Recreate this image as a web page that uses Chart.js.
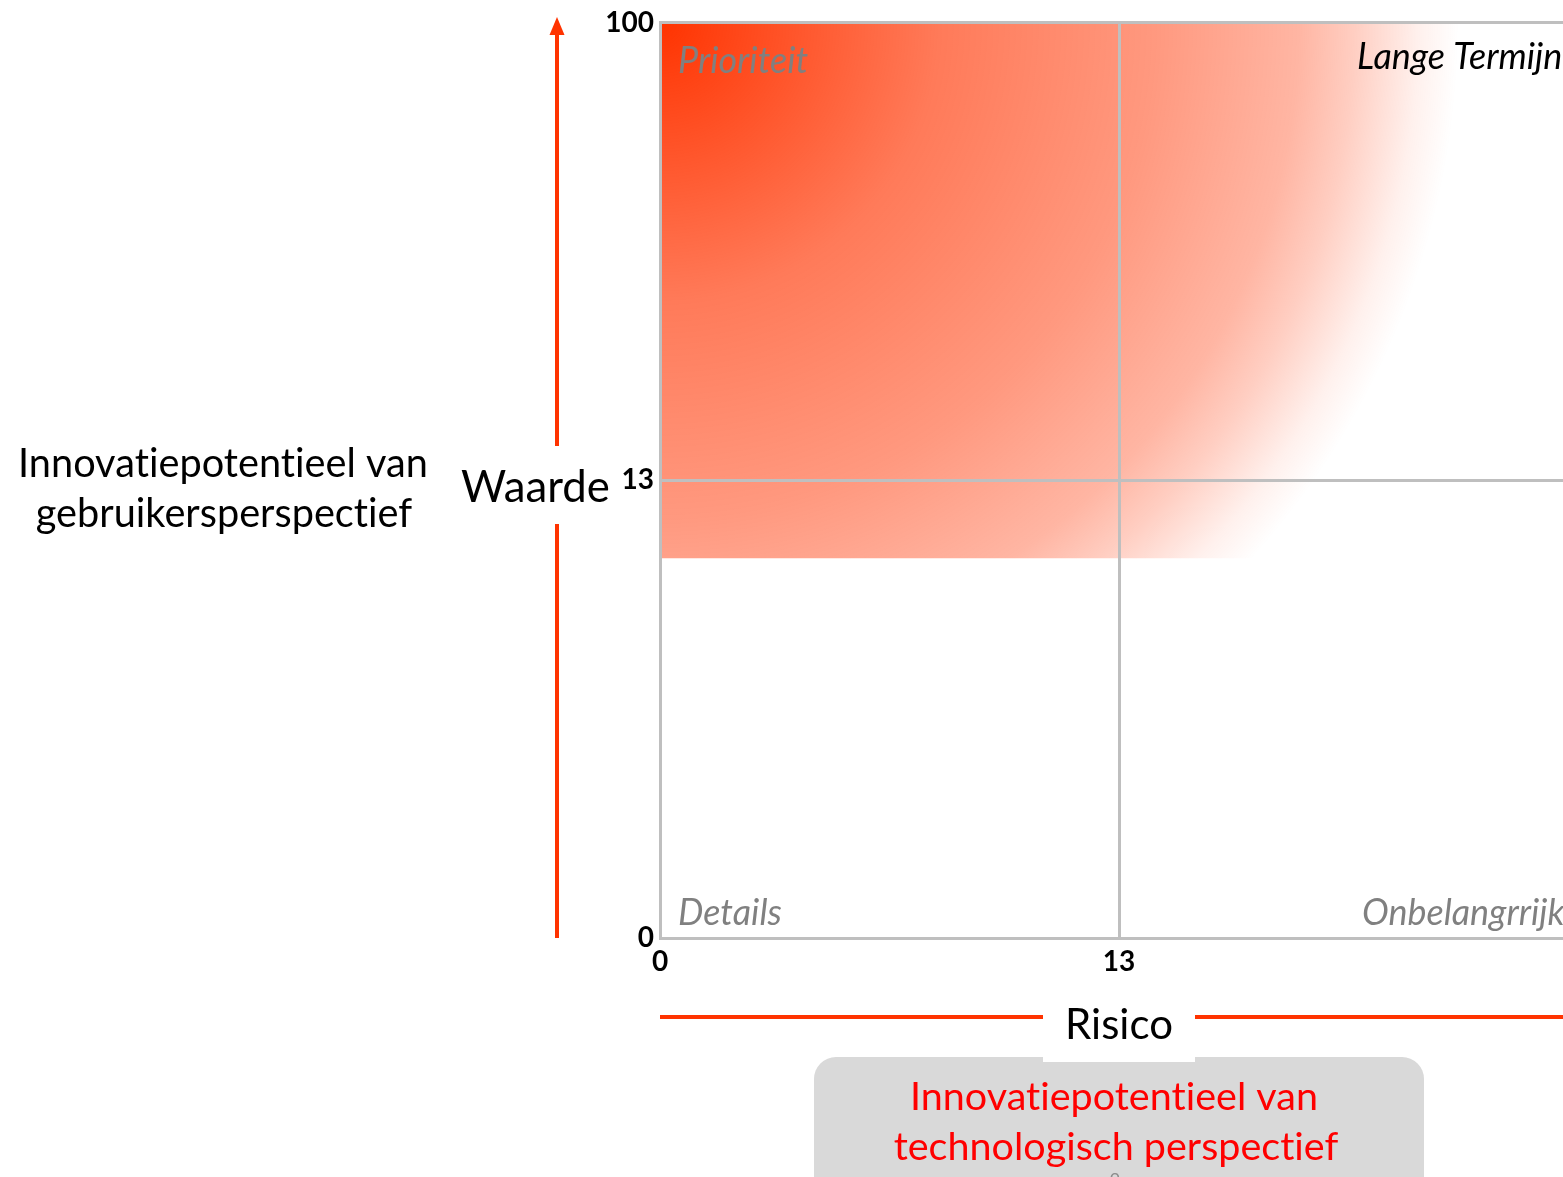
<!DOCTYPE html>
<html lang="nl">
<head>
<meta charset="utf-8">
<title>Waarde / Risico</title>
<script src="https://cdn.jsdelivr.net/npm/chart.js@4/dist/chart.umd.min.js"></script>
<style>
    html, body { margin: 0; padding: 0; background: #ffffff; overflow: hidden; }
    #matrix { position: absolute; left: 0; top: 0; }
</style>
</head>
<body>
<canvas id="matrix" width="1610" height="1177"></canvas>
<script>
"use strict";

// As-posities en hun labels: 0, 13 en 100 staan op gelijke afstand.
const tickPositions = [0, 1, 2];
const yTickLabels = ["0", "13", "100"];
const xTickLabels = ["0", "13", ""];

// Het gekleurde blok linksboven (in as-eenheden).
const zoneX = [0, 2];
const zoneTop = 2;
const zoneBottom = 0.83;

// Teksten rond de matrix.
const quadrantLabels = ["Prioriteit", "Lange Termijn", "Details", "Onbelangrrijk"];
const yTitle = "Waarde";
const xTitle = "Risico";
const yCaption = ["Innovatiepotentieel van", "gebruikersperspectief"];
const xCaption = ["Innovatiepotentieel van", "technologisch perspectief"];

const red = "#ff3300";
const family = "Lato, 'Open Sans', sans-serif";

// Lettergrootte zoeken die een tekst een bepaalde breedte geeft.
function fitFont(ctx, text, width, style) {
    ctx.font = `${style} 100px ${family}`;
    const size = 100 * width / ctx.measureText(text).width;
    return `${style} ${size.toFixed(1)}px ${family}`;
}

// Radiale vervaging vanuit de hoek linksboven.
function zoneGradient(context) {
    const area = context.chart.chartArea;
    if (!area) {
        return "rgba(255, 51, 0, 0.5)";
    }
    const r = (area.right - area.left) * 0.87;
    const g = context.chart.ctx.createRadialGradient(area.left, area.top, 0, area.left, area.top, r);
    g.addColorStop(0, "rgba(255, 51, 0, 1)");
    g.addColorStop(0.18, "rgba(255, 51, 0, 0.82)");
    g.addColorStop(0.35, "rgba(255, 51, 0, 0.65)");
    g.addColorStop(0.62, "rgba(255, 51, 0, 0.5)");
    g.addColorStop(0.8, "rgba(255, 51, 0, 0.36)");
    g.addColorStop(0.87, "rgba(255, 51, 0, 0.24)");
    g.addColorStop(0.95, "rgba(255, 51, 0, 0.07)");
    g.addColorStop(1, "rgba(255, 51, 0, 0)");
    return g;
}

// Alles buiten het plotgebied: pijlen, titels en het grijze kader.
const decorations = {
    id: "decorations",
    afterDraw(chart) {
        const ctx = chart.ctx;
        const a = chart.chartArea;
        ctx.save();
        // geen "ti"-ligaturen van Lato
        ctx.textRendering = "optimizeSpeed";
        ctx.letterSpacing = "0.01px";

        // kwadrantnamen
        const qFont = fitFont(ctx, quadrantLabels[0], 130, "italic");
        ctx.font = qFont;
        ctx.textAlign = "left";
        ctx.textBaseline = "alphabetic";
        ctx.fillStyle = "#808080";
        ctx.fillText(quadrantLabels[0], a.left + 18, a.top + 50);
        ctx.fillText(quadrantLabels[2], a.left + 18, a.bottom - 13);
        ctx.fillText(quadrantLabels[3], a.left + 702, a.bottom - 13);
        ctx.fillStyle = "#000000";
        ctx.fillText(quadrantLabels[1], a.left + 697, a.top + 46);

        // verticale pijl met onderbreking voor "Waarde"
        const ax = 557;
        ctx.strokeStyle = red;
        ctx.fillStyle = red;
        ctx.lineWidth = 4;
        ctx.beginPath();
        ctx.moveTo(ax, a.bottom);
        ctx.lineTo(ax, 524);
        ctx.moveTo(ax, 446);
        ctx.lineTo(ax, 32);
        ctx.stroke();
        ctx.beginPath();
        ctx.moveTo(ax, 17);
        ctx.lineTo(ax + 7.5, 35);
        ctx.lineTo(ax - 7.5, 35);
        ctx.closePath();
        ctx.fill();

        ctx.fillStyle = "#000000";
        ctx.font = fitFont(ctx, yTitle, 149, "normal");
        ctx.textAlign = "left";
        ctx.fillText(yTitle, 461, 502);

        ctx.font = fitFont(ctx, yCaption[0], 410, "normal");
        ctx.textAlign = "center";
        ctx.fillText(yCaption[0], 223, 477);
        ctx.fillText(yCaption[1], 224, 527);

        // grijs kader onderaan
        ctx.fillStyle = "#d9d9d9";
        ctx.beginPath();
        ctx.roundRect(814, 1057, 610, 160, 22);
        ctx.fill();

        // horizontale lijn met "Risico"
        ctx.strokeStyle = red;
        ctx.lineWidth = 4;
        ctx.beginPath();
        ctx.moveTo(a.left, 1017);
        ctx.lineTo(1043, 1017);
        ctx.moveTo(1195, 1017);
        ctx.lineTo(chart.width, 1017);
        ctx.stroke();
        ctx.fillStyle = "#ffffff";
        ctx.fillRect(1043, 1000, 152, 62);
        ctx.fillStyle = "#000000";
        ctx.font = fitFont(ctx, xTitle, 108, "normal");
        ctx.fillText(xTitle, 1119, 1039);

        ctx.fillStyle = "#ff0000";
        ctx.font = fitFont(ctx, xCaption[0], 408, "normal");
        ctx.fillText(xCaption[0], 1114, 1110);
        ctx.fillText(xCaption[1], 1116, 1160);

        // paginanummer
        ctx.fillStyle = "#8c8c8c";
        ctx.font = `18px ${family}`;
        ctx.fillText("9", 1115, 1186);

        ctx.restore();
    }
};

const gridColor = "#bfbfbf";
const tickFont = { family: family, size: 28, weight: "bold" };

const config = {
    type: "line",
    data: {
        datasets: [{
            label: "zone",
            data: zoneX.map((x) => ({ x: x, y: zoneTop })),
            fill: { value: zoneBottom },
            backgroundColor: zoneGradient,
            borderWidth: 0,
            pointRadius: 0,
            tension: 0
        }]
    },
    options: {
        responsive: false,
        animation: false,
        events: [],
        layout: {
            padding: { top: 20, right: 32, bottom: 0, left: 0 }
        },
        scales: {
            x: {
                type: "linear",
                min: 0,
                max: 2,
                afterFit(scale) {
                    scale.height = 239;
                },
                afterBuildTicks(scale) {
                    scale.ticks = tickPositions.map((v) => ({ value: v }));
                },
                ticks: {
                    callback: (v) => xTickLabels[tickPositions.indexOf(v)],
                    font: tickFont,
                    color: "#000000",
                    padding: 7,
                    maxRotation: 0
                },
                grid: { color: gridColor, lineWidth: 3, drawTicks: false, z: 1 },
                border: { color: gridColor, width: 3, z: 1 }
            },
            y: {
                type: "linear",
                min: 0,
                max: 2,
                afterFit(scale) {
                    scale.width = 660;
                },
                afterBuildTicks(scale) {
                    scale.ticks = tickPositions.map((v) => ({ value: v }));
                },
                ticks: {
                    callback: (v) => yTickLabels[tickPositions.indexOf(v)],
                    font: tickFont,
                    color: "#000000",
                    padding: 6
                },
                grid: { color: gridColor, lineWidth: 3, drawTicks: false, z: 1 },
                border: { color: gridColor, width: 3, z: 1 }
            }
        },
        plugins: {
            legend: { display: false },
            tooltip: { enabled: false }
        }
    },
    plugins: [decorations]
};

new Chart(document.getElementById("matrix"), config);
</script>
</body>
</html>
